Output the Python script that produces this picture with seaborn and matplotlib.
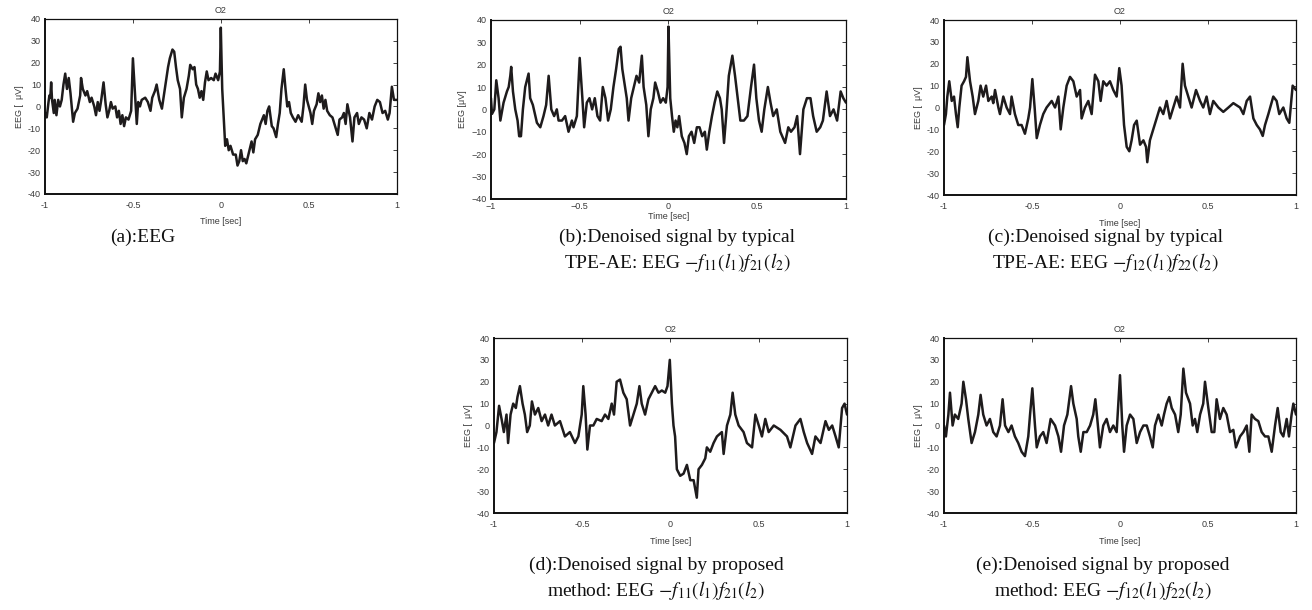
import numpy as np
import pandas as pd
import matplotlib
matplotlib.use("Agg")
import matplotlib.pyplot as plt
import seaborn as sns

# --- data (time in sec, EEG in uV) ---
t_a = [-1.000, -0.990, -0.980, -0.975, -0.970, -0.965, -0.960, -0.950, -0.945, -0.935,
       -0.925, -0.915, -0.905, -0.895, -0.885, -0.875, -0.865, -0.855, -0.840, -0.830,
       -0.815, -0.800, -0.795, -0.785, -0.770, -0.760, -0.745, -0.735, -0.720, -0.710,
       -0.700, -0.690, -0.680, -0.667, -0.655, -0.645, -0.635, -0.625, -0.615, -0.600,
       -0.590, -0.580, -0.570, -0.560, -0.550, -0.540, -0.525, -0.510, -0.500, -0.490,
       -0.478, -0.470, -0.460, -0.450, -0.430, -0.415, -0.400, -0.390, -0.375, -0.365,
       -0.350, -0.335, -0.315, -0.300, -0.290, -0.275, -0.265, -0.255, -0.245, -0.232,
       -0.222, -0.210, -0.195, -0.182, -0.174, -0.160, -0.150, -0.140, -0.130, -0.120,
       -0.110, -0.100, -0.090, -0.080, -0.070, -0.055, -0.040, -0.030, -0.015, -0.005,
       0.000, 0.008, 0.015, 0.025, 0.035, 0.045, 0.055, 0.070, 0.085, 0.095,
       0.105, 0.115, 0.125, 0.135, 0.145, 0.160, 0.175, 0.185, 0.195, 0.210,
       0.225, 0.235, 0.245, 0.255, 0.265, 0.275, 0.290, 0.300, 0.315, 0.325,
       0.335, 0.345, 0.358, 0.368, 0.378, 0.388, 0.398, 0.410, 0.425, 0.440,
       0.460, 0.470, 0.480, 0.490, 0.500, 0.510, 0.520, 0.530, 0.545, 0.555,
       0.565, 0.575, 0.585, 0.595, 0.605, 0.620, 0.635, 0.650, 0.665, 0.675,
       0.690, 0.700, 0.710, 0.720, 0.735, 0.749, 0.760, 0.775, 0.785, 0.800,
       0.815, 0.830, 0.845, 0.860, 0.875, 0.890, 0.905, 0.920, 0.935, 0.950,
       0.960, 0.973, 0.985, 1.000]
eeg_a = [-3, -5, 2, 5, 4, 11, 3, -3, 3, -4,
         3, 0, 3, 10, 15, 8, 13, 6, -7, -3,
         -1, 5, 13, 8, 5, 7, 2, 4, 0, -4,
         2, -2, 3, 11, 1, -5, -2, 2, -1, 0,
         -5, -2, -8, -4, -9, -5, -6, -2, 22, 8,
         -8, 2, 0, 3, 4, 2, -2, 4, 7, 10,
         3, -1, 10, 18, 22, 26, 25, 18, 12, 8,
         -5, 4, 8, 14, 19, 17, 18, 10, 8, 4,
         7, 3, 11, 16, 12, 13, 12, 15, 12, 16,
         36, 8, -3, -18, -15, -20, -18, -22, -22, -27,
         -25, -20, -25, -24, -26, -21, -16, -21, -15, -13,
         -8, -6, -4, -8, -2, 0, -9, -10, -14, -8,
         -3, 8, 17, 8, 0, 2, -3, -5, -7, -4,
         -7, 0, 10, 3, 0, -3, -8, -2, 1, 6,
         2, 5, -1, 3, -2, -4, -5, -9, -13, -6,
         -5, -3, -8, 1, -5, -16, -5, -3, -8, -5,
         -6, -10, -3, -6, 0, 3, 2, -3, -2, -6,
         -3, 9, 3, 3]

t_b = [-1.000, -0.994, -0.981, -0.970, -0.957, -0.947, -0.929, -0.910, -0.900, -0.891,
       -0.886, -0.876, -0.863, -0.850, -0.841, -0.831, -0.820, -0.807, -0.794, -0.788,
       -0.779, -0.764, -0.750, -0.741, -0.722, -0.704, -0.689, -0.675, -0.660, -0.644,
       -0.629, -0.619, -0.600, -0.582, -0.563, -0.544, -0.535, -0.516, -0.500, -0.485,
       -0.475, -0.460, -0.445, -0.430, -0.415, -0.400, -0.385, -0.370, -0.355, -0.340,
       -0.325, -0.310, -0.295, -0.280, -0.270, -0.260, -0.245, -0.235, -0.225, -0.210,
       -0.195, -0.180, -0.165, -0.150, -0.140, -0.125, -0.113, -0.100, -0.085, -0.075,
       -0.060, -0.045, -0.030, -0.015, -0.005, 0.000, 0.010, 0.020, 0.030, 0.040,
       0.050, 0.060, 0.075, 0.090, 0.103, 0.115, 0.130, 0.145, 0.160, 0.175,
       0.190, 0.205, 0.216, 0.230, 0.245, 0.260, 0.275, 0.290, 0.300, 0.313,
       0.325, 0.340, 0.360, 0.375, 0.390, 0.405, 0.425, 0.445, 0.465, 0.482,
       0.495, 0.510, 0.525, 0.540, 0.560, 0.575, 0.590, 0.610, 0.630, 0.657,
       0.675, 0.690, 0.710, 0.725, 0.741, 0.760, 0.780, 0.800, 0.815, 0.835,
       0.855, 0.870, 0.891, 0.910, 0.930, 0.950, 0.970, 0.985, 1.000]
eeg_b = [5, -2, 0, 13, 5, -5, 3, 8, 10, 15,
         19, 8, 0, -5, -12, -12, 0, 10, 14, 16,
         5, 2, -3, -6, -8, -3, 2, 15, 0, -3,
         0, -5, -5, -3, -10, -5, -8, -3, 23, 5,
         -8, 3, 5, 0, 5, -3, -5, 10, 5, -5,
         0, 10, 18, 27, 28, 18, 10, 5, -5, 5,
         10, 15, 12, 24, 10, 2, -12, 0, 5, 12,
         8, 3, 5, 3, 10, 37, 5, -3, -10, -5,
         -8, -3, -12, -15, -20, -12, -10, -15, -8, -8,
         -12, -10, -18, -10, -3, 3, 8, 5, 0, -15,
         -3, 15, 24, 15, 5, -5, -5, -3, 10, 20,
         5, -5, -10, 0, 10, 3, -3, 0, -10, -15,
         -8, -10, -8, -3, -20, 0, 5, 5, -3, -10,
         -8, -5, 8, -3, 0, -5, 8, 5, 3]

t_c = [-1.000, -0.989, -0.981, -0.970, -0.956, -0.943, -0.932, -0.922, -0.913, -0.900,
       -0.886, -0.875, -0.867, -0.852, -0.837, -0.824, -0.805, -0.792, -0.777, -0.761,
       -0.748, -0.729, -0.720, -0.710, -0.691, -0.682, -0.663, -0.644, -0.625, -0.616,
       -0.597, -0.578, -0.559, -0.540, -0.521, -0.511, -0.498, -0.485, -0.473, -0.455,
       -0.436, -0.417, -0.388, -0.369, -0.350, -0.337, -0.322, -0.303, -0.284, -0.265,
       -0.246, -0.227, -0.218, -0.199, -0.180, -0.161, -0.142, -0.123, -0.110, -0.095,
       -0.076, -0.057, -0.038, -0.019, -0.004, 0.009, 0.023, 0.038, 0.053, 0.066,
       0.080, 0.095, 0.114, 0.133, 0.148, 0.155, 0.170, 0.189, 0.208, 0.227,
       0.246, 0.265, 0.284, 0.303, 0.322, 0.341, 0.356, 0.369, 0.388, 0.407,
       0.432, 0.455, 0.473, 0.492, 0.511, 0.530, 0.559, 0.587, 0.616, 0.644,
       0.682, 0.701, 0.720, 0.739, 0.758, 0.777, 0.795, 0.811, 0.824, 0.843,
       0.871, 0.890, 0.905, 0.928, 0.947, 0.962, 0.981, 1.000]
eeg_c = [-8, -3, 5, 12, 3, 5, -3, -9, 0, 10,
         12, 14, 23, 12, 5, -3, 3, 10, 5, 10,
         3, 5, 2, 8, 0, -3, 5, 0, -3, 5,
         -3, -8, -8, -12, -5, 0, 13, 0, -14, -8,
         -3, 0, 3, 0, 5, -10, 0, 10, 14, 12,
         5, 8, -5, 0, 3, -3, 15, 12, 3, 12,
         10, 12, 8, 5, 18, 10, -8, -18, -20, -15,
         -8, -6, -17, -15, -18, -25, -15, -10, -5, 0,
         -3, 3, -5, 0, 5, 0, 20, 10, 5, 0,
         8, 3, 0, 5, -3, 3, 0, -2, 0, 2,
         0, -3, 3, 5, -5, -8, -10, -13, -8, -3,
         5, 3, -3, 0, -5, -7, 10, 8]

t_d = [-1.000, -0.986, -0.971, -0.957, -0.944, -0.929, -0.920, -0.906, -0.891, -0.876,
       -0.867, -0.853, -0.838, -0.825, -0.812, -0.797, -0.785, -0.768, -0.749, -0.730,
       -0.711, -0.693, -0.674, -0.655, -0.626, -0.598, -0.570, -0.541, -0.522, -0.503,
       -0.494, -0.481, -0.471, -0.456, -0.437, -0.418, -0.390, -0.371, -0.352, -0.333,
       -0.320, -0.305, -0.286, -0.267, -0.248, -0.229, -0.210, -0.191, -0.176, -0.163,
       -0.144, -0.125, -0.106, -0.087, -0.068, -0.049, -0.030, -0.017, -0.004, 0.008,
       0.017, 0.026, 0.036, 0.055, 0.074, 0.093, 0.112, 0.131, 0.149, 0.159,
       0.178, 0.197, 0.206, 0.225, 0.244, 0.263, 0.291, 0.301, 0.320, 0.339,
       0.352, 0.367, 0.386, 0.414, 0.433, 0.462, 0.481, 0.500, 0.518, 0.537,
       0.556, 0.585, 0.623, 0.660, 0.679, 0.708, 0.736, 0.755, 0.774, 0.802,
       0.821, 0.850, 0.878, 0.897, 0.916, 0.935, 0.953, 0.972, 0.986, 1.000]
eeg_d = [-8, -3, 9, 3, -3, 5, -8, 5, 10, 8,
         13, 18, 10, 5, -3, 0, 11, 5, 8, 2,
         5, 0, 5, 0, 2, -5, -3, -8, -5, 5,
         18, 5, -11, 0, 0, 3, 2, 5, 3, 10,
         5, 20, 21, 15, 12, 0, 5, 10, 18, 10,
         5, 12, 15, 18, 15, 16, 15, 18, 30, 10,
         0, -5, -20, -23, -22, -18, -25, -25, -33, -20,
         -18, -15, -10, -12, -8, -5, -3, -13, 0, 5,
         15, 5, 0, -3, -8, -10, 5, 0, -5, 3,
         -3, 0, -2, -5, -10, 0, 3, -3, -8, -13,
         -5, -8, 2, -2, 0, -5, -10, 8, 10, 5]

t_e = [-1.000, -0.989, -0.975, -0.966, -0.951, -0.938, -0.919, -0.900, -0.890, -0.875,
       -0.862, -0.843, -0.824, -0.805, -0.792, -0.777, -0.758, -0.739, -0.720, -0.701,
       -0.682, -0.667, -0.653, -0.634, -0.616, -0.597, -0.578, -0.559, -0.540, -0.521,
       -0.511, -0.498, -0.483, -0.473, -0.455, -0.436, -0.417, -0.394, -0.369, -0.350,
       -0.335, -0.318, -0.299, -0.278, -0.265, -0.246, -0.237, -0.223, -0.208, -0.189,
       -0.170, -0.152, -0.140, -0.129, -0.114, -0.095, -0.076, -0.057, -0.038, -0.019,
       0.000, 0.013, 0.023, 0.038, 0.057, 0.076, 0.095, 0.114, 0.133, 0.152,
       0.170, 0.186, 0.199, 0.218, 0.237, 0.250, 0.265, 0.280, 0.294, 0.313,
       0.331, 0.345, 0.360, 0.375, 0.398, 0.413, 0.426, 0.439, 0.455, 0.473,
       0.483, 0.502, 0.521, 0.536, 0.549, 0.568, 0.587, 0.606, 0.625, 0.644,
       0.659, 0.682, 0.701, 0.720, 0.735, 0.748, 0.767, 0.786, 0.805, 0.824,
       0.843, 0.862, 0.881, 0.896, 0.913, 0.928, 0.947, 0.960, 0.975, 0.985,
       1.000]
eeg_e = [0, -5, 5, 15, 0, 5, 3, 10, 20, 12,
         3, -8, -3, 5, 14, 5, 0, 3, -3, -5,
         0, 12, 0, -3, 0, -5, -8, -12, -14, -5,
         5, 17, 0, -10, -5, -3, -8, 3, 0, -5,
         -12, 0, 5, 18, 10, 3, -5, -12, -3, -3,
         0, 5, 12, 3, -10, 0, 3, -3, 0, -3,
         23, 0, -12, 0, 5, 3, -8, -3, 0, 0,
         -5, -10, 0, 5, 0, 5, 10, 13, 8, 5,
         -3, 5, 26, 15, 10, 0, 3, -3, 5, 10,
         20, 8, -3, -3, 12, 3, 8, 5, -3, -2,
         -10, -5, -3, 0, -12, 5, 3, 2, -3, -5,
         -5, -12, 0, 8, -3, -5, 3, -5, 5, 10,
         5]

panels = [
    ("a", t_a, eeg_a, "EEG [  \u03bcV]", "-", ["(a):EEG"]),
    ("b", t_b, eeg_b, "EEG [\u03bcV]", "\u2212",
     ["(b):Denoised signal by typical", r"TPE-AE: EEG $-f_{11}(l_1)f_{21}(l_2)$"]),
    ("c", t_c, eeg_c, "EEG [  \u03bcV]", "-",
     ["(c):Denoised signal by typical", r"TPE-AE: EEG $-f_{12}(l_1)f_{22}(l_2)$"]),
    ("d", t_d, eeg_d, "EEG [  \u03bcV]", "-",
     ["(d):Denoised signal by proposed", r"method: EEG $-f_{11}(l_1)f_{21}(l_2)$"]),
    ("e", t_e, eeg_e, "EEG [  \u03bcV]", "-",
     ["(e):Denoised signal by proposed", r"method: EEG $-f_{12}(l_1)f_{22}(l_2)$"]),
]

x_ticks = [-1, -0.5, 0, 0.5, 1]
y_ticks = [-40, -30, -20, -10, 0, 10, 20, 30, 40]

sns.set_style("white")
plt.rcParams["font.family"] = ["Liberation Sans", "DejaVu Sans"]
plt.rcParams["mathtext.fontset"] = "stix"

fig = plt.figure(figsize=(13.12, 6.10), dpi=100)

# axes boxes in figure fractions, captions (x centre, y line1, y line2) in pixels
boxes = {
    "a": [0.0343, 0.682, 0.268, 0.287],
    "b": [0.3742, 0.674, 0.2706, 0.2934],
    "c": [0.7195, 0.6803, 0.2683, 0.2869],
    "d": [0.3765, 0.159, 0.2691, 0.2869],
    "e": [0.7195, 0.159, 0.2683, 0.2869],
}
captions = {
    "a": (143, 237, None),
    "b": (677, 237, 263),
    "c": (1105, 237, 263),
    "d": (656, 565, 590),
    "e": (1103, 565, 590),
}
# matlab style padding: panel (b) is tighter than the others
xpad = {"a": 5, "b": 2, "c": 5, "d": 5, "e": 5}
xlabpad = {"a": 5, "b": 1, "c": 6, "d": 6, "e": 6}
tick_grey = "#3a3a3a"

for key, t, v, ylab, minus, cap in panels:
    ax = fig.add_axes(boxes[key])
    df = pd.DataFrame({"t": t, "v": v})
    sns.lineplot(data=df, x="t", y="v", ax=ax, color="#1e1b1c", lw=1.8,
                 estimator=None, sort=True)
    ax.set_xlim(-1, 1)
    ax.set_ylim(-40, 40)
    ax.set_xticks(x_ticks)
    ax.set_xticklabels([("%g" % x).replace("-", minus) for x in x_ticks])
    ax.set_yticks(y_ticks)
    ax.set_yticklabels([("%g" % y).replace("-", minus) for y in y_ticks])
    ax.tick_params(direction="in", length=3, width=0.6, top=True, right=True,
                   labelsize=6.5, labelcolor=tick_grey, pad=3, color="#222222")
    ax.tick_params(axis="x", pad=xpad[key])
    for s in ax.spines.values():
        s.set_color("#111111")
        s.set_linewidth(0.9)
    ax.spines["bottom"].set_linewidth(1.4)
    ax.spines["left"].set_linewidth(1.4)
    ax.set_title("O2", fontsize=6.5, color=tick_grey, pad=4)
    ax.set_xlabel("Time [sec]", fontsize=6.5, color=tick_grey, labelpad=xlabpad[key])
    ax.set_ylabel(ylab, fontsize=6.5, color=tick_grey, labelpad=3)

    cx, y1, y2 = captions[key]
    fig.text(cx / 1312, 1 - y1 / 610, cap[0], ha="center", va="center",
             fontsize=14, family="Liberation Serif", color="#111111")
    if y2 is not None:
        fig.text(cx / 1312, 1 - y2 / 610, cap[1], ha="center", va="center",
                 fontsize=14, family="Liberation Serif", color="#111111")

fig.savefig("out.png", dpi=100)
